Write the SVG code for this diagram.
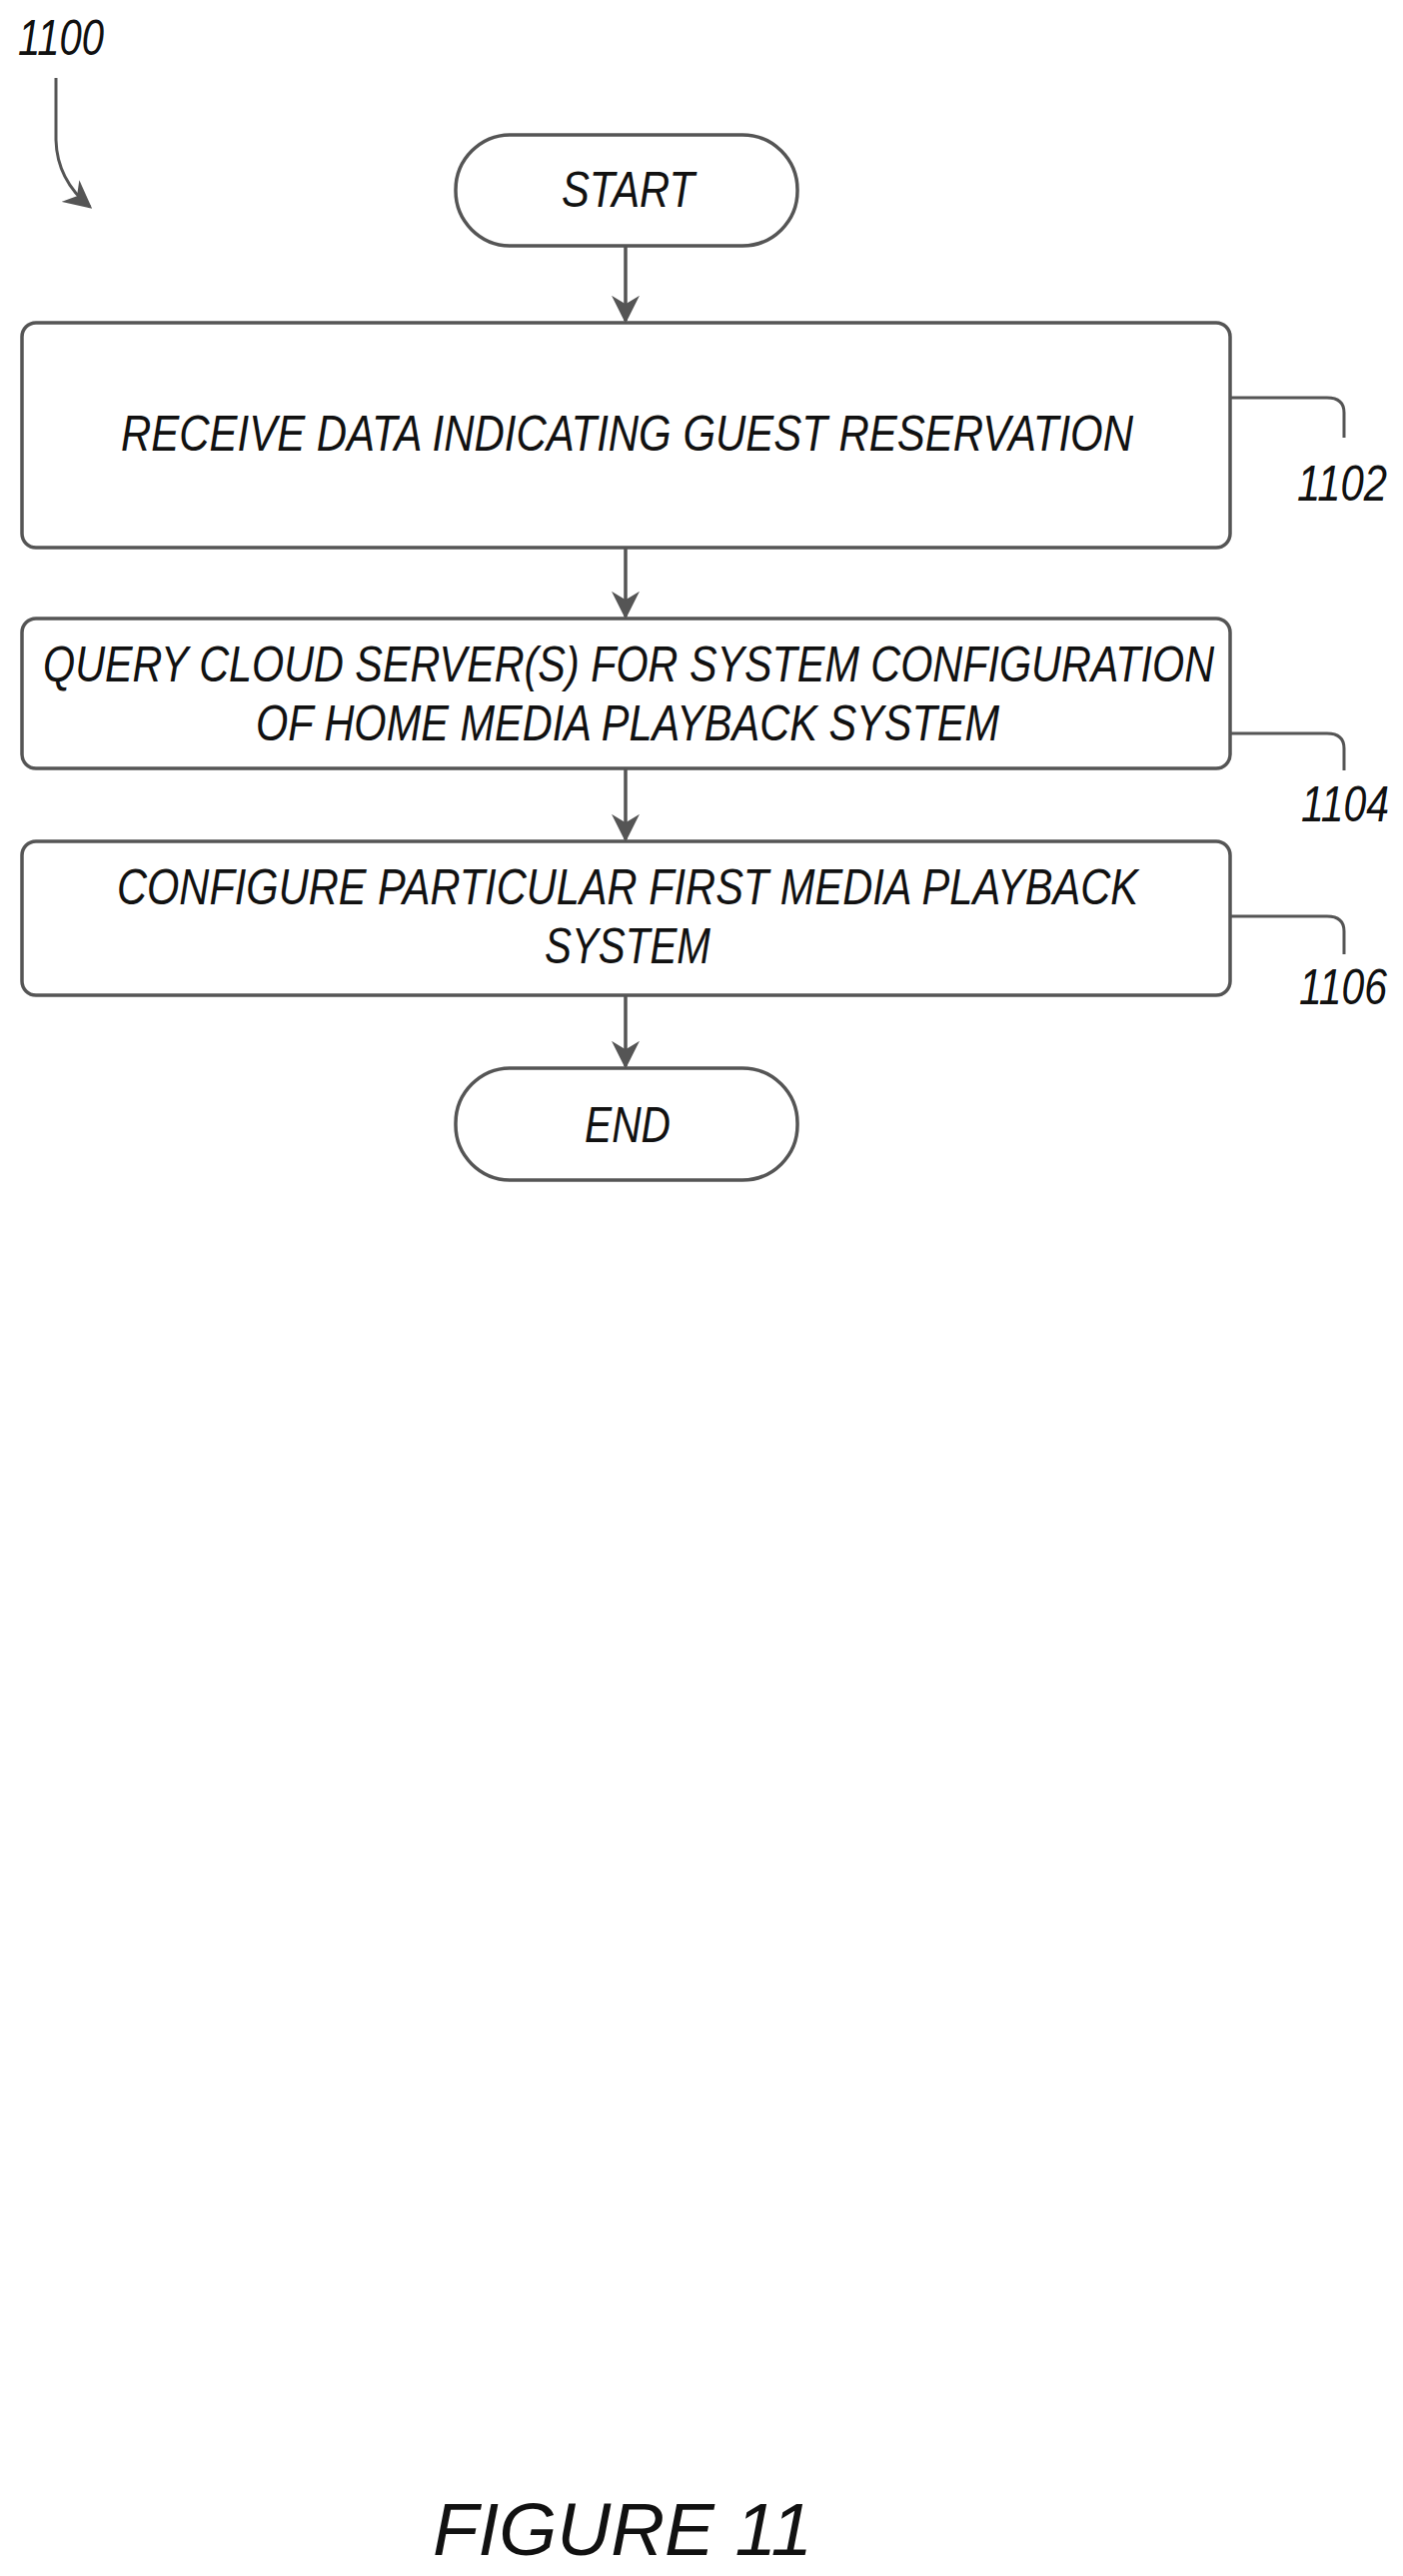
<svg xmlns="http://www.w3.org/2000/svg" width="1404" height="2578" viewBox="0 0 1404 2578">
<style>
.b{fill:#fff;stroke:#555;stroke-width:3.5}
.t{font-family:"Liberation Sans",Arial,sans-serif;font-style:italic;font-size:50px;fill:#111}
.c{stroke:#555;stroke-width:3.5;fill:none}
.l{stroke:#555;stroke-width:3;fill:none}
</style>
<defs>
<marker id="a" viewBox="0 0 10 10" refX="9" refY="5" markerWidth="28" markerHeight="28" markerUnits="userSpaceOnUse" orient="auto"><path d="M0,0L10,5L0,10L3,5z" fill="#555"/></marker></defs>
<g id="label1100"><text class="t" x="18" y="55" textLength="86" lengthAdjust="spacingAndGlyphs">1100</text>
<path class="l" d="M56,78 L56,140 Q57,180 90,207" marker-end="url(#a)"/></g>
<g id="start"><rect class="b" x="456" y="135" width="342" height="111" rx="55"/><text class="t" x="562" y="207" textLength="133" lengthAdjust="spacingAndGlyphs">START</text></g>
<g id="n1102"><rect class="b" x="22" y="323" width="1209" height="225" rx="14"/><text class="t" x="121" y="451" textLength="1013" lengthAdjust="spacingAndGlyphs">RECEIVE DATA INDICATING GUEST RESERVATION</text>
<path class="l" d="M1231,398 H1328 Q1345,398 1345,413 V438"/><text class="t" x="1298" y="501" textLength="90" lengthAdjust="spacingAndGlyphs">1102</text></g>
<g id="n1104"><rect class="b" x="22" y="619" width="1209" height="150" rx="14"/><text class="t" x="43" y="682" textLength="1172" lengthAdjust="spacingAndGlyphs">QUERY CLOUD SERVER(S) FOR SYSTEM CONFIGURATION</text><text class="t" x="256" y="741" textLength="744" lengthAdjust="spacingAndGlyphs">OF HOME MEDIA PLAYBACK SYSTEM</text>
<path class="l" d="M1231,734 H1328 Q1345,734 1345,749 V771"/><text class="t" x="1302" y="822" textLength="88" lengthAdjust="spacingAndGlyphs">1104</text></g>
<g id="n1106"><rect class="b" x="22" y="842" width="1209" height="154" rx="14"/><text class="t" x="117" y="905" textLength="1022" lengthAdjust="spacingAndGlyphs">CONFIGURE PARTICULAR FIRST MEDIA PLAYBACK</text><text class="t" x="545" y="964" textLength="166" lengthAdjust="spacingAndGlyphs">SYSTEM</text>
<path class="l" d="M1231,917 H1328 Q1345,917 1345,932 V955"/><text class="t" x="1300" y="1005" textLength="88" lengthAdjust="spacingAndGlyphs">1106</text></g>
<g id="end"><rect class="b" x="456" y="1069" width="342" height="112" rx="55"/><text class="t" x="585" y="1143" textLength="86" lengthAdjust="spacingAndGlyphs">END</text></g>
<g id="connectors">
<path class="c" d="M626,246 V321" marker-end="url(#a)"/>
<path class="c" d="M626,548 V617" marker-end="url(#a)"/>
<path class="c" d="M626,769 V840" marker-end="url(#a)"/>
<path class="c" d="M626,996 V1067" marker-end="url(#a)"/>
</g>
<text class="t" x="433" y="2557" style="font-size:75px" textLength="380" lengthAdjust="spacingAndGlyphs">FIGURE 11</text>
</svg>
